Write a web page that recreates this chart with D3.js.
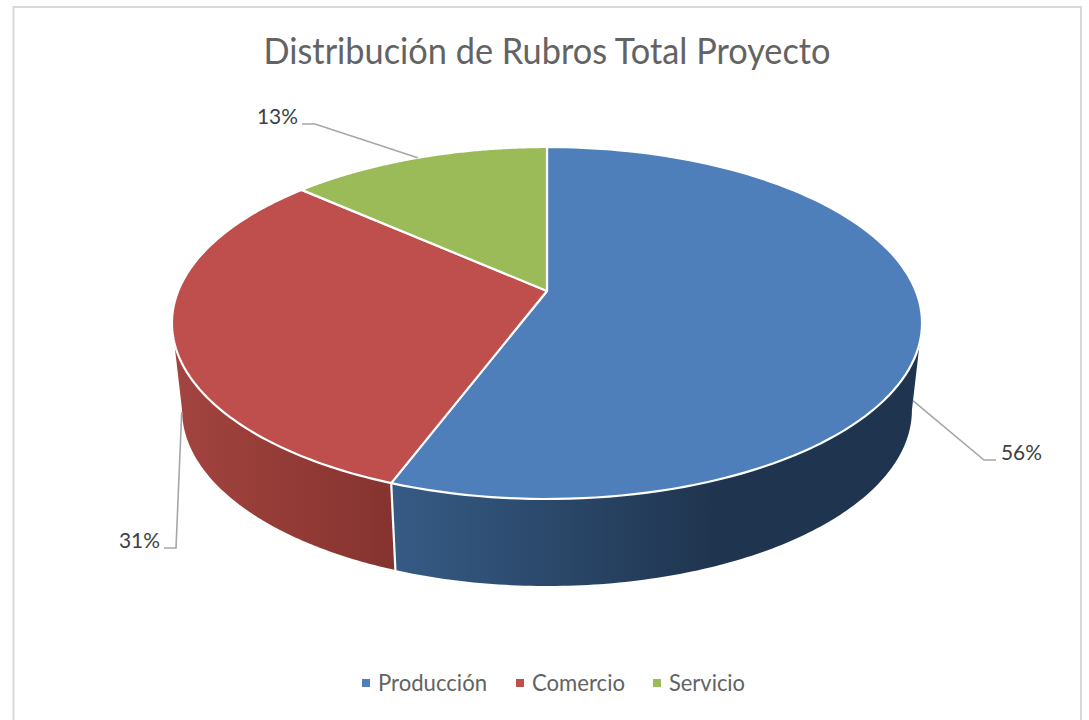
<!DOCTYPE html>
<html><head><meta charset="utf-8">
<script src="https://cdn.jsdelivr.net/npm/d3@7/dist/d3.min.js"></script>
<style>html,body{margin:0;background:#fff}svg{display:block}text{font-family:Lato,"Open Sans",sans-serif}</style>
</head><body><svg id="c" width="1089" height="720"></svg>
<script>
const categories = ["Producción", "Comercio", "Servicio"];
const values = [55.7, 30.9, 13.4];
const labels = ["56%", "31%", "13%"];
const topColors = ["#4f7fba", "#be4f4c", "#9bbb59"];
const wallFrom = ["#365b85", "#a3443f", "#7a9446"];
const wallTo = ["#1f344e", "#85332f", "#5f7a35"];
const title = "Distribución de Rubros Total Proyecto";

const W = 1089, H = 720;
const svg = d3.select("#c");
const defs = svg.append("defs");

// frame
svg.append("rect").attr("x",13.5).attr("y",7).attr("width",1067.5).attr("height",H+10)
  .attr("fill","#fff").attr("stroke","#d9d9d9").attr("stroke-width",2);

// perspective projection of the unit disc
const ax = 547, ay = 291, a = 368.8, b = 170.2, k = 0.1818;
const depth = 87, shrink = 0.973;
const project = (ang, lvl = 0, r = 1) => {
  const u = r*Math.sin(ang), v = -r*Math.cos(ang), w = 1 - k*v;
  const x = a*u/w, y = b*v/w;
  return [ax + x*(1 - (1-shrink)*lvl), ay + y + depth*lvl];
};
const arcs = d3.pie().sort(null).value(d => d)(values);
const line = d3.line();
const samples = (a0, a1) => d3.range(0, 121).map(i => a0 + (a1-a0)*i/120);

// angles at which the disc silhouette meets the wall
const tangentRight = Math.PI/2 + Math.asin(k);
const tangentLeft = 2*Math.PI - tangentRight;

const walls = svg.append("g");
arcs.forEach((d, i) => {
  const a0 = Math.max(d.startAngle, tangentRight), a1 = Math.min(d.endAngle, tangentLeft);
  if (a1 <= a0) return;
  const topPts = samples(a0, a1).map(t => project(t, 0));
  const botPts = samples(a1, a0).map(t => project(t, 1));
  const xs = topPts.concat(botPts).map(p => p[0]);
  const id = "wall" + i;
  const g = defs.append("linearGradient").attr("id", id).attr("gradientUnits","userSpaceOnUse")
    .attr("x1", d3.min(xs)).attr("x2", i === 0 ? 720 : d3.max(xs)).attr("y1",0).attr("y2",0);
  g.append("stop").attr("offset",0).attr("stop-color", wallFrom[i]);
  g.append("stop").attr("offset",1).attr("stop-color", wallTo[i]);
  walls.append("path").attr("d", line(topPts.concat(botPts)) + "Z")
    .attr("fill", `url(#${id})`);
});
// white separator on the wall between the two front slices
const seam = arcs[0].endAngle;
walls.append("line")
  .attr("x1", project(seam,0)[0]).attr("y1", project(seam,0)[1])
  .attr("x2", project(seam,1)[0]).attr("y2", project(seam,1)[1])
  .attr("stroke","#fff").attr("stroke-width",2.2);

// top face
const faces = svg.append("g");
arcs.forEach((d, i) => {
  const pts = [[ax, ay]].concat(samples(d.startAngle, d.endAngle).map(t => project(t, 0)));
  faces.append("path").attr("d", line(pts) + "Z").attr("fill", topColors[i])
    .attr("stroke","#fff").attr("stroke-width",2.2).attr("stroke-linejoin","round");
});

// leaders and labels
const labelX = [1001, 160, 298], labelAnchor = ["start", "end", "end"];
const leaderEnd = [996, 164, 302];
const elbows = [[984, 460], [176, 548], [315, 124]];
const anchors = [0.9, 0.9, 0];
const leaders = svg.append("g").attr("fill","none").attr("stroke","#a6a6a6").attr("stroke-width",1.6);
arcs.forEach((d, i) => {
  const mid = (d.startAngle + d.endAngle)/2;
  const p = project(mid, anchors[i]);
  const e = elbows[i];
  leaders.append("path").attr("d", line([p, e, [leaderEnd[i], e[1]]]));
  svg.append("text").attr("x", labelX[i]).attr("y", e[1] - 0.5)
    .attr("text-anchor", labelAnchor[i]).attr("font-size", 22)
    .attr("textLength", 41).attr("lengthAdjust","spacingAndGlyphs")
    .attr("fill","#404040").text(labels[i]);
});

// title
svg.append("text").attr("x",547).attr("y",64).attr("text-anchor","middle")
  .attr("font-size",36).attr("fill","#636363")
  .attr("textLength",567).attr("lengthAdjust","spacingAndGlyphs").text(title);

// legend
const legendX = [362, 516, 653], legendW = [109, 93, 76];
categories.forEach((c, i) => {
  svg.append("rect").attr("x",legendX[i]).attr("y",679).attr("width",8).attr("height",8).attr("fill",topColors[i]);
  svg.append("text").attr("x",legendX[i]+16).attr("y",691).attr("font-size",23)
    .attr("fill","#636363").attr("textLength",legendW[i]).attr("lengthAdjust","spacingAndGlyphs").text(c);
});
</script></body></html>
